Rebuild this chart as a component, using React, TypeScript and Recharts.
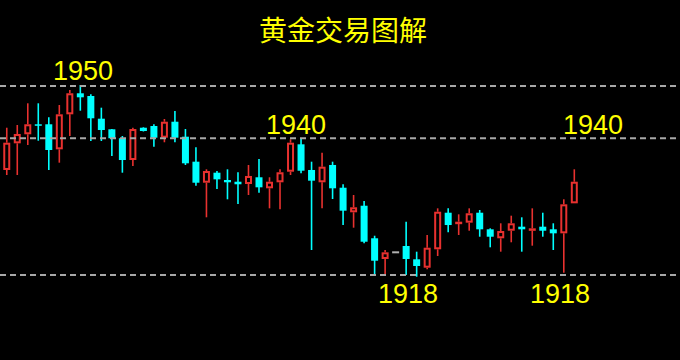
import React from "react";
import { ComposedChart, Bar, XAxis, YAxis, ReferenceLine } from "recharts";

const title = "黄金交易图解";

// candle index (x position), -1 is the partially visible first candle
const candleIndex = [
  -1, 0, 1, 2, 3, 4, 5, 6, 7, 8, 9, 10, 11, 12, 13, 14, 15, 16, 17, 18, 19,
  20, 21, 22, 23, 24, 25, 26, 27, 28, 29, 30, 31, 32, 33, 34, 35, 36, 37, 38,
  39, 40, 41, 42, 43, 44, 45, 46, 47, 48, 49, 50, 51, 52, 53, 54,
];
const opens = [
  1929.7, 1933.92, 1939.03, 1940.76, 1942.68, 1942.68, 1937.88, 1944.59, 1948.62, 1948.1,
  1943.75, 1941.72, 1940.0, 1935.83, 1942.02, 1942.35, 1940.11, 1943.17, 1940.3, 1935.51,
  1931.48, 1933.4, 1932.0, 1931.67, 1931.23, 1932.52, 1930.41, 1931.56, 1933.59, 1938.84,
  1933.92, 1931.56, 1934.88, 1930.52, 1925.81, 1927.07, 1920.83, 1916.86, 1918.14, 1919.35,
  1916.8, 1915.19, 1918.72, 1925.73, 1923.57, 1923.82, 1925.73, 1922.55, 1920.83, 1922.28,
  1923.05, 1922.28, 1923.05, 1922.55, 1921.78, 1927.53,
];
const highs = [
  1932.5, 1942.02, 1942.54, 1946.7, 1946.7, 1944.02, 1946.37, 1949.25, 1950.21, 1948.43,
  1945.86, 1941.77, 1940.43, 1942.02, 1942.1, 1942.68, 1943.69, 1945.22, 1941.77, 1938.27,
  1934.05, 1933.72, 1934.05, 1933.48, 1934.88, 1936.02, 1932.52, 1934.05, 1939.8, 1939.86,
  1935.51, 1937.23, 1935.51, 1931.18, 1929.12, 1927.97, 1921.32, 1918.58, 1918.2, 1924.01,
  1918.26, 1921.46, 1926.57, 1926.57, 1925.42, 1926.57, 1926.25, 1922.74, 1923.7, 1925.16,
  1924.85, 1926.57, 1925.73, 1923.7, 1928.3, 1934.05,
];
const lows = [
  1929.7, 1932.96, 1932.96, 1938.71, 1939.53, 1933.92, 1935.32, 1940.43, 1945.28, 1939.48,
  1939.48, 1936.6, 1933.4, 1934.68, 1941.3, 1938.38, 1939.23, 1939.23, 1934.88, 1930.91,
  1924.85, 1930.27, 1928.3, 1927.4, 1929.12, 1929.57, 1926.57, 1926.38, 1932.96, 1933.28,
  1918.58, 1926.57, 1928.36, 1923.37, 1922.86, 1919.87, 1913.79, 1913.79, 1918.1, 1913.79,
  1913.46, 1914.88, 1917.43, 1921.98, 1921.46, 1922.28, 1921.13, 1919.1, 1918.26, 1920.06,
  1918.26, 1919.41, 1921.13, 1918.58, 1914.23, 1927.53,
];
const closes = [
  1932.0, 1939.15, 1940.82, 1942.68, 1942.41, 1937.75, 1944.59, 1948.62, 1947.85, 1943.83,
  1941.58, 1940.0, 1935.83, 1941.77, 1941.39, 1940.11, 1943.17, 1940.11, 1935.2, 1931.48,
  1933.72, 1932.13, 1931.56, 1931.18, 1932.77, 1930.6, 1931.67, 1933.48, 1939.15, 1933.78,
  1931.87, 1934.55, 1930.41, 1926.12, 1926.77, 1920.17, 1916.53, 1918.14, 1918.14, 1916.86,
  1915.52, 1919.02, 1925.92, 1923.37, 1924.01, 1925.62, 1922.55, 1921.13, 1922.22, 1923.7,
  1922.55, 1922.74, 1922.28, 1921.78, 1927.34, 1931.67,
];

// dashed level lines and their labels
const levels = [1950, 1940, 1913.8];
const labelTexts = ["1950", "1940", "1940", "1918", "1918"];

const RED = "#e8312f";
const CYAN = "#00ffff";
const GRAY = "#b0b0b0";
const YELLOW = "#ffff00";

const data = candleIndex.map((i, k) => ({
  i,
  open: opens[k],
  high: highs[k],
  low: lows[k],
  close: closes[k],
  range: [lows[k], highs[k]],
}));

const Candle = (props: any) => {
  const { x, y, width, height, payload } = props;
  if (!payload) return null;
  const { open, close, high, low } = payload;
  const yTop = Math.min(y, y + height);
  const h = Math.abs(height);
  const cx = x + width / 2;
  const span = high - low;
  const py = (v: number) => (span === 0 ? yTop : yTop + ((high - v) / span) * h);
  const top = py(Math.max(open, close));
  const bot = py(Math.min(open, close));
  if (open === close) {
    return (
      <line x1={cx - 3.5} x2={cx + 3.5} y1={top} y2={top} stroke={GRAY} strokeWidth={2} />
    );
  }
  if (close > open) {
    return (
      <g>
        <line x1={cx} x2={cx} y1={yTop} y2={top} stroke={RED} strokeWidth={1.6} />
        <line x1={cx} x2={cx} y1={bot} y2={yTop + h} stroke={RED} strokeWidth={1.6} />
        <rect
          x={cx - 2.5}
          y={top + 1}
          width={5}
          height={Math.max(bot - top - 2, 0.5)}
          fill="#000"
          stroke={RED}
          strokeWidth={2}
        />
      </g>
    );
  }
  return (
    <g>
      <line x1={cx} x2={cx} y1={yTop} y2={yTop + h} stroke={CYAN} strokeWidth={1.6} />
      <rect x={cx - 3.5} y={top} width={7} height={Math.max(bot - top, 1.5)} fill={CYAN} />
    </g>
  );
};

export default function App() {
  const numFont = "'Liberation Sans', Arial, sans-serif";
  return (
    <div
      style={{
        position: "fixed",
        left: 0,
        top: 0,
        width: 680,
        height: 360,
        background: "#000",
        overflow: "hidden",
      }}
    >
      <ComposedChart
        width={680}
        height={360}
        data={data}
        margin={{ top: 0, right: 0, bottom: 0, left: 0 }}
      >
        <XAxis type="number" dataKey="i" domain={[-0.62, 64.08]} hide allowDataOverflow />
        <YAxis type="number" domain={[1897.5, 1966.5]} hide allowDataOverflow />
        {levels.map((lv) => (
          <ReferenceLine
            key={lv}
            y={lv}
            stroke="#a8a8a8"
            strokeWidth={2}
            strokeDasharray="6 4"
          />
        ))}
        <Bar
          dataKey="range"
          barSize={7}
          shape={<Candle />}
          isAnimationActive={false}
        />
      </ComposedChart>
      <svg
        width={680}
        height={360}
        style={{ position: "absolute", left: 0, top: 0, pointerEvents: "none" }}
      >
        <text
          x={343}
          y={41}
          textAnchor="middle"
          fontSize={28}
          fill={YELLOW}
          fontFamily="'Noto Sans CJK SC', sans-serif"
        >
          {title}
        </text>
        <text x={53} y={80} fontSize={27} fill={YELLOW} fontFamily={numFont}>
          {labelTexts[0]}
        </text>
        <text x={266} y={134} fontSize={27} fill={YELLOW} fontFamily={numFont}>
          {labelTexts[1]}
        </text>
        <text x={563} y={134} fontSize={27} fill={YELLOW} fontFamily={numFont}>
          {labelTexts[2]}
        </text>
        <text x={378} y={303} fontSize={27} fill={YELLOW} fontFamily={numFont}>
          {labelTexts[3]}
        </text>
        <text x={530} y={303} fontSize={27} fill={YELLOW} fontFamily={numFont}>
          {labelTexts[4]}
        </text>
      </svg>
    </div>
  );
}
